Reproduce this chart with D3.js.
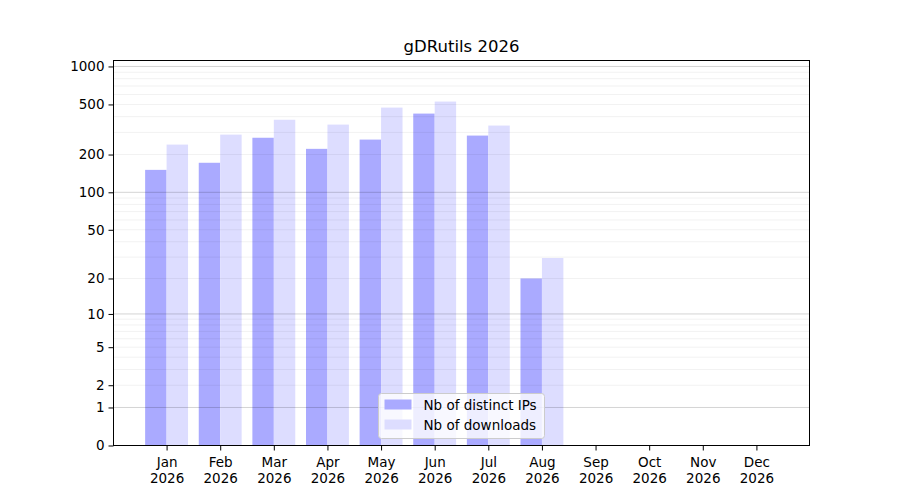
<!DOCTYPE html>
<html>
<head>
<meta charset="utf-8">
<script src="https://cdn.jsdelivr.net/npm/d3@7"></script>
<style>
  body { margin: 0; background: #fff; }
  text { font-family: "DejaVu Sans", sans-serif; fill: #000; }
</style>
</head>
<body>
<svg width="900" height="500"></svg>
<script>
const months = ["Jan", "Feb", "Mar", "Apr", "May", "Jun", "Jul", "Aug", "Sep", "Oct", "Nov", "Dec"];
const year = "2026";
const ips = [151, 172, 272, 222, 263, 423, 283, 20];
const downloads = [240, 288, 378, 346, 472, 527, 340, 29.5];
const yTicks = [0, 1, 2, 5, 10, 20, 50, 100, 200, 500, 1000];
const majorGrid = [1, 10, 100, 1000];
const minorGrid = [];
[1, 10, 100].forEach(d => { for (let k = 2; k <= 9; k++) minorGrid.push(d * k); });

const margin = { top: 60.5, right: 90, bottom: 55, left: 113.5 };
const width = 696;
const height = 385;

const svg = d3.select("svg");
const g = svg.append("g").attr("transform", `translate(${margin.left},${margin.top})`);

// bars are 0.4 wide, 5% margin either side like matplotlib
const x = d3.scaleLinear().domain([-0.99, 11.99]).range([0, width]);
const y = d3.scaleSymlog().constant(1).domain([0, 1115]).range([height, 0]);
const bw = x(0.4) - x(0);

g.selectAll(".ip")
  .data(ips)
  .enter()
  .append("rect")
  .attr("x", (d, i) => x(i - 0.4))
  .attr("width", bw)
  .attr("y", d => y(d))
  .attr("height", d => height - y(d))
  .attr("fill", "#aaaaff");

g.selectAll(".dl")
  .data(downloads)
  .enter()
  .append("rect")
  .attr("x", (d, i) => x(i))
  .attr("width", bw)
  .attr("y", d => y(d))
  .attr("height", d => height - y(d))
  .attr("fill", "#ddddff");

// grid on top of bars
g.selectAll(".minor")
  .data(minorGrid)
  .enter()
  .append("line")
  .attr("x1", 0).attr("x2", width)
  .attr("y1", d => y(d)).attr("y2", d => y(d))
  .attr("stroke", "#000").attr("stroke-opacity", 0.07).attr("stroke-width", 0.8);

g.selectAll(".major")
  .data(majorGrid)
  .enter()
  .append("line")
  .attr("x1", 0).attr("x2", width)
  .attr("y1", d => y(d)).attr("y2", d => y(d))
  .attr("stroke", "#000").attr("stroke-opacity", 0.22).attr("stroke-width", 0.8);

// axes
const yAxis = g.append("g")
  .call(d3.axisLeft(y).tickValues(yTicks).tickFormat(d3.format("d")).tickSize(5).tickPadding(4));
yAxis.select(".domain").remove();
yAxis.selectAll("text").style("font-size", "13.5px");

const xAxis = g.append("g")
  .attr("transform", `translate(0,${height})`)
  .call(d3.axisBottom(x).tickValues(d3.range(12)).tickFormat("").tickSize(5));
xAxis.select(".domain").remove();
xAxis.selectAll(".tick")
  .append("text")
  .attr("text-anchor", "middle")
  .style("font-size", "13.5px")
  .selectAll("tspan")
  .data(i => [months[i], year])
  .enter()
  .append("tspan")
  .attr("x", 0)
  .attr("y", (d, j) => 21 + j * 16)
  .text(d => d);

g.append("rect")
  .attr("width", width).attr("height", height)
  .attr("fill", "none").attr("stroke", "#000").attr("stroke-width", 1);

svg.append("text")
  .attr("x", margin.left + width / 2)
  .attr("y", 52)
  .attr("text-anchor", "middle")
  .style("font-size", "16.5px")
  .text("gDRutils " + year);

// legend, lower center
const legendItems = [
  { name: "Nb of distinct IPs", color: "#aaaaff" },
  { name: "Nb of downloads", color: "#ddddff" }
];
const lw = 166, lh = 45;
const legend = g.append("g")
  .attr("transform", `translate(${Math.round(width / 2 - lw / 2)},${height - lh - 7})`);
legend.append("rect")
  .attr("width", lw).attr("height", lh)
  .attr("rx", 3)
  .attr("fill", "#fff").attr("fill-opacity", 0.8)
  .attr("stroke", "#ccc");
const rows = legend.selectAll(".row")
  .data(legendItems)
  .enter()
  .append("g")
  .attr("transform", (d, i) => `translate(6,${6 + i * 20})`);
rows.append("rect")
  .attr("width", 27).attr("height", 10)
  .attr("fill", d => d.color);
rows.append("text")
  .attr("x", 39).attr("y", 10)
  .style("font-size", "13.5px")
  .text(d => d.name);
</script>
</body>
</html>
